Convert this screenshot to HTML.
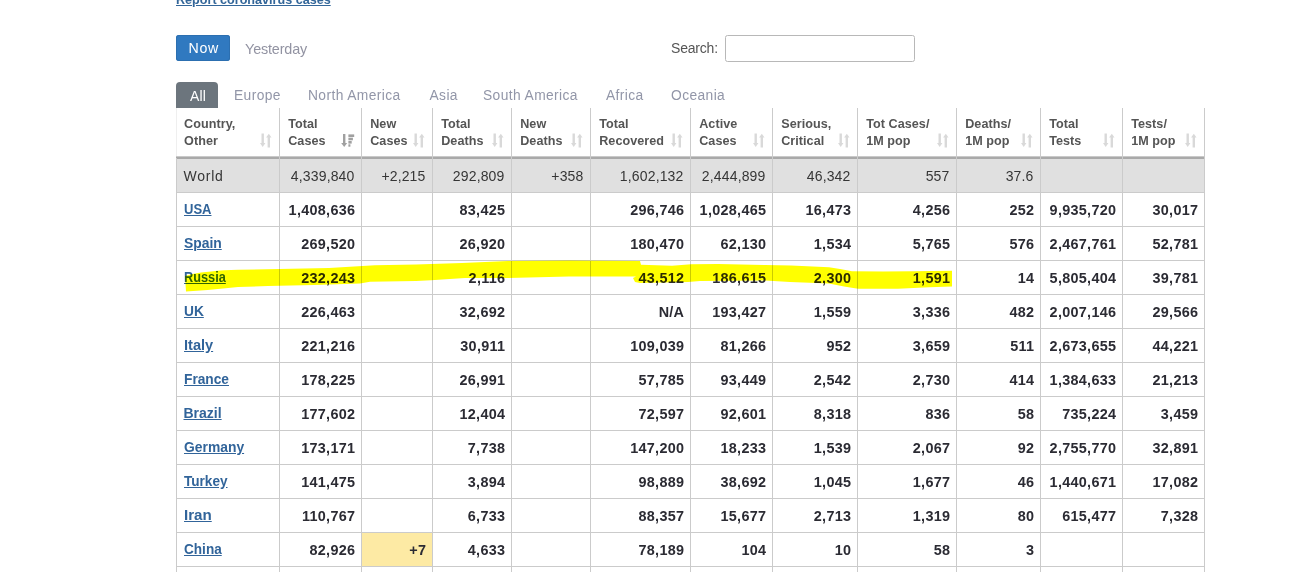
<!DOCTYPE html>
<html><head><meta charset="utf-8"><style>
html,body{margin:0;padding:0;background:#fff;width:1304px;height:572px;overflow:hidden;}
body{position:relative;font-family:"Liberation Sans", sans-serif;}
.t{position:absolute;white-space:nowrap;}
.r{position:absolute;}
</style></head><body>
<div class="t" style="top:-10.37px;font-size:12.6px;font-weight:bold;color:#336699;line-height:20px;left:176.00px;text-decoration:underline;">Report coronavirus cases</div>
<div class="r" style="left:176px;top:35px;width:54px;height:26px;background:#3079c0;border-radius:3px;box-shadow:inset 0 0 0 1px #2c6fb0;"></div>
<div class="t" style="top:37.88px;font-size:14.2px;font-weight:normal;color:#ffffff;line-height:20px;letter-spacing:0.75px;left:188.40px;">Now</div>
<div class="t" style="top:38.61px;font-size:14.4px;font-weight:normal;color:#9293a2;line-height:20px;letter-spacing:-0.15px;left:245.00px;">Yesterday</div>
<div class="t" style="top:37.75px;font-size:14px;font-weight:normal;color:#555;line-height:20px;letter-spacing:-0.2px;left:671.00px;">Search:</div>
<div class="r" style="left:725px;top:35px;width:188px;height:25px;border:1px solid #b8b8b8;border-radius:2.5px;background:#fff"></div>
<div class="r" style="left:176px;top:82px;width:42px;height:26px;background:#6c757d;border-radius:4px 4px 0 0;"></div>
<div class="t" style="top:85.75px;font-size:14px;font-weight:normal;color:#ffffff;line-height:20px;letter-spacing:0.2px;left:190.00px;">All</div>
<div class="t" style="top:86.02px;font-size:13.8px;font-weight:normal;color:#9296a8;line-height:20px;letter-spacing:0.4px;left:234.00px;">Europe</div>
<div class="t" style="top:86.02px;font-size:13.8px;font-weight:normal;color:#9296a8;line-height:20px;letter-spacing:0.4px;left:308.00px;">North America</div>
<div class="t" style="top:86.02px;font-size:13.8px;font-weight:normal;color:#9296a8;line-height:20px;letter-spacing:0.4px;left:429.50px;">Asia</div>
<div class="t" style="top:86.02px;font-size:13.8px;font-weight:normal;color:#9296a8;line-height:20px;letter-spacing:0.4px;left:483.00px;">South America</div>
<div class="t" style="top:86.02px;font-size:13.8px;font-weight:normal;color:#9296a8;line-height:20px;letter-spacing:0.4px;left:606.00px;">Africa</div>
<div class="t" style="top:86.02px;font-size:13.8px;font-weight:normal;color:#9296a8;line-height:20px;letter-spacing:0.4px;left:671.00px;">Oceania</div>
<div class="r" style="left:176px;top:159px;width:1028px;height:33px;background:#e0e0e0;"></div>
<div class="r" style="left:361px;top:533px;width:71px;height:33px;background:#fdeaa4;"></div>
<div class="r" style="left:176px;top:156px;width:1029px;height:1px;background:#c9c9c9;"></div>
<div class="r" style="left:176px;top:157px;width:1029px;height:2px;background:#a9a9a9;"></div>
<div class="r" style="left:176px;top:192px;width:1029px;height:1px;background:#cbcbcb;"></div>
<div class="r" style="left:176px;top:226px;width:1029px;height:1px;background:#cbcbcb;"></div>
<div class="r" style="left:176px;top:260px;width:1029px;height:1px;background:#cbcbcb;"></div>
<div class="r" style="left:176px;top:294px;width:1029px;height:1px;background:#cbcbcb;"></div>
<div class="r" style="left:176px;top:328px;width:1029px;height:1px;background:#cbcbcb;"></div>
<div class="r" style="left:176px;top:362px;width:1029px;height:1px;background:#cbcbcb;"></div>
<div class="r" style="left:176px;top:396px;width:1029px;height:1px;background:#cbcbcb;"></div>
<div class="r" style="left:176px;top:430px;width:1029px;height:1px;background:#cbcbcb;"></div>
<div class="r" style="left:176px;top:464px;width:1029px;height:1px;background:#cbcbcb;"></div>
<div class="r" style="left:176px;top:498px;width:1029px;height:1px;background:#cbcbcb;"></div>
<div class="r" style="left:176px;top:532px;width:1029px;height:1px;background:#cbcbcb;"></div>
<div class="r" style="left:176px;top:566px;width:1029px;height:1px;background:#cbcbcb;"></div>
<div class="r" style="left:176px;top:108px;width:1px;height:48px;background:#efefef;"></div>
<div class="r" style="left:176px;top:158px;width:1px;height:414px;background:#cbcbcb;"></div>
<div class="r" style="left:279px;top:108px;width:1px;height:464px;background:#cbcbcb;"></div>
<div class="r" style="left:361px;top:108px;width:1px;height:464px;background:#cbcbcb;"></div>
<div class="r" style="left:432px;top:108px;width:1px;height:464px;background:#cbcbcb;"></div>
<div class="r" style="left:511px;top:108px;width:1px;height:464px;background:#cbcbcb;"></div>
<div class="r" style="left:590px;top:108px;width:1px;height:464px;background:#cbcbcb;"></div>
<div class="r" style="left:690px;top:108px;width:1px;height:464px;background:#cbcbcb;"></div>
<div class="r" style="left:772px;top:108px;width:1px;height:464px;background:#cbcbcb;"></div>
<div class="r" style="left:857px;top:108px;width:1px;height:464px;background:#cbcbcb;"></div>
<div class="r" style="left:956px;top:108px;width:1px;height:464px;background:#cbcbcb;"></div>
<div class="r" style="left:1040px;top:108px;width:1px;height:464px;background:#cbcbcb;"></div>
<div class="r" style="left:1122px;top:108px;width:1px;height:464px;background:#cbcbcb;"></div>
<div class="r" style="left:1204px;top:108px;width:1px;height:464px;background:#cbcbcb;"></div>
<div class="t" style="top:114.03px;font-size:12.6px;font-weight:bold;color:#555555;line-height:20px;letter-spacing:0.05px;left:184.10px;">Country,</div>
<div class="t" style="top:130.93px;font-size:12.6px;font-weight:bold;color:#555555;line-height:20px;letter-spacing:0.05px;left:184.10px;">Other</div>
<div class="t" style="top:114.03px;font-size:12.6px;font-weight:bold;color:#555555;line-height:20px;letter-spacing:0.05px;left:288.20px;">Total</div>
<div class="t" style="top:130.93px;font-size:12.6px;font-weight:bold;color:#555555;line-height:20px;letter-spacing:0.05px;left:288.20px;">Cases</div>
<div class="t" style="top:114.03px;font-size:12.6px;font-weight:bold;color:#555555;line-height:20px;letter-spacing:0.05px;left:370.20px;">New</div>
<div class="t" style="top:130.93px;font-size:12.6px;font-weight:bold;color:#555555;line-height:20px;letter-spacing:0.05px;left:370.20px;">Cases</div>
<div class="t" style="top:114.03px;font-size:12.6px;font-weight:bold;color:#555555;line-height:20px;letter-spacing:0.05px;left:441.20px;">Total</div>
<div class="t" style="top:130.93px;font-size:12.6px;font-weight:bold;color:#555555;line-height:20px;letter-spacing:0.05px;left:441.20px;">Deaths</div>
<div class="t" style="top:114.03px;font-size:12.6px;font-weight:bold;color:#555555;line-height:20px;letter-spacing:0.05px;left:520.20px;">New</div>
<div class="t" style="top:130.93px;font-size:12.6px;font-weight:bold;color:#555555;line-height:20px;letter-spacing:0.05px;left:520.20px;">Deaths</div>
<div class="t" style="top:114.03px;font-size:12.6px;font-weight:bold;color:#555555;line-height:20px;letter-spacing:0.05px;left:599.20px;">Total</div>
<div class="t" style="top:130.93px;font-size:12.6px;font-weight:bold;color:#555555;line-height:20px;letter-spacing:0.05px;left:599.20px;">Recovered</div>
<div class="t" style="top:114.03px;font-size:12.6px;font-weight:bold;color:#555555;line-height:20px;letter-spacing:0.05px;left:699.20px;">Active</div>
<div class="t" style="top:130.93px;font-size:12.6px;font-weight:bold;color:#555555;line-height:20px;letter-spacing:0.05px;left:699.20px;">Cases</div>
<div class="t" style="top:114.03px;font-size:12.6px;font-weight:bold;color:#555555;line-height:20px;letter-spacing:0.05px;left:781.20px;">Serious,</div>
<div class="t" style="top:130.93px;font-size:12.6px;font-weight:bold;color:#555555;line-height:20px;letter-spacing:0.05px;left:781.20px;">Critical</div>
<div class="t" style="top:114.03px;font-size:12.6px;font-weight:bold;color:#555555;line-height:20px;letter-spacing:0.05px;left:866.20px;">Tot&nbsp;Cases/</div>
<div class="t" style="top:130.93px;font-size:12.6px;font-weight:bold;color:#555555;line-height:20px;letter-spacing:0.05px;left:866.20px;">1M pop</div>
<div class="t" style="top:114.03px;font-size:12.6px;font-weight:bold;color:#555555;line-height:20px;letter-spacing:0.05px;left:965.20px;">Deaths/</div>
<div class="t" style="top:130.93px;font-size:12.6px;font-weight:bold;color:#555555;line-height:20px;letter-spacing:0.05px;left:965.20px;">1M pop</div>
<div class="t" style="top:114.03px;font-size:12.6px;font-weight:bold;color:#555555;line-height:20px;letter-spacing:0.05px;left:1049.20px;">Total</div>
<div class="t" style="top:130.93px;font-size:12.6px;font-weight:bold;color:#555555;line-height:20px;letter-spacing:0.05px;left:1049.20px;">Tests</div>
<div class="t" style="top:114.03px;font-size:12.6px;font-weight:bold;color:#555555;line-height:20px;letter-spacing:0.05px;left:1131.20px;">Tests/</div>
<div class="t" style="top:130.93px;font-size:12.6px;font-weight:bold;color:#555555;line-height:20px;letter-spacing:0.05px;left:1131.20px;">1M pop</div>
<svg class="r" style="left:260px;top:133px" width="12" height="15" viewBox="0 0 12 15"><g fill="#d9d9d9"><rect x="1.5" y="0.5" width="2.4" height="10"/><path d="M0 10 L5.4 10 L2.7 14 Z"/><rect x="7.6" y="4" width="2.4" height="10.5"/><path d="M6.1 4.5 L11.5 4.5 L8.8 0.8 Z"/></g></svg>
<svg class="r" style="left:341px;top:133px" width="14" height="15" viewBox="0 0 14 15"><g fill="#a0a0a0"><rect x="2" y="1" width="2.4" height="10"/><path d="M0.2 10 L6.2 10 L3.2 14 Z"/><rect x="7.4" y="1.4" width="5.8" height="2.6"/><rect x="7.4" y="4.7" width="4.5" height="2.6"/><rect x="7.4" y="8" width="3.3" height="2.6"/><rect x="7.4" y="11.3" width="2" height="2.4"/></g></svg>
<svg class="r" style="left:413px;top:133px" width="12" height="15" viewBox="0 0 12 15"><g fill="#d9d9d9"><rect x="1.5" y="0.5" width="2.4" height="10"/><path d="M0 10 L5.4 10 L2.7 14 Z"/><rect x="7.6" y="4" width="2.4" height="10.5"/><path d="M6.1 4.5 L11.5 4.5 L8.8 0.8 Z"/></g></svg>
<svg class="r" style="left:492px;top:133px" width="12" height="15" viewBox="0 0 12 15"><g fill="#d9d9d9"><rect x="1.5" y="0.5" width="2.4" height="10"/><path d="M0 10 L5.4 10 L2.7 14 Z"/><rect x="7.6" y="4" width="2.4" height="10.5"/><path d="M6.1 4.5 L11.5 4.5 L8.8 0.8 Z"/></g></svg>
<svg class="r" style="left:571px;top:133px" width="12" height="15" viewBox="0 0 12 15"><g fill="#d9d9d9"><rect x="1.5" y="0.5" width="2.4" height="10"/><path d="M0 10 L5.4 10 L2.7 14 Z"/><rect x="7.6" y="4" width="2.4" height="10.5"/><path d="M6.1 4.5 L11.5 4.5 L8.8 0.8 Z"/></g></svg>
<svg class="r" style="left:671px;top:133px" width="12" height="15" viewBox="0 0 12 15"><g fill="#d9d9d9"><rect x="1.5" y="0.5" width="2.4" height="10"/><path d="M0 10 L5.4 10 L2.7 14 Z"/><rect x="7.6" y="4" width="2.4" height="10.5"/><path d="M6.1 4.5 L11.5 4.5 L8.8 0.8 Z"/></g></svg>
<svg class="r" style="left:753px;top:133px" width="12" height="15" viewBox="0 0 12 15"><g fill="#d9d9d9"><rect x="1.5" y="0.5" width="2.4" height="10"/><path d="M0 10 L5.4 10 L2.7 14 Z"/><rect x="7.6" y="4" width="2.4" height="10.5"/><path d="M6.1 4.5 L11.5 4.5 L8.8 0.8 Z"/></g></svg>
<svg class="r" style="left:838px;top:133px" width="12" height="15" viewBox="0 0 12 15"><g fill="#d9d9d9"><rect x="1.5" y="0.5" width="2.4" height="10"/><path d="M0 10 L5.4 10 L2.7 14 Z"/><rect x="7.6" y="4" width="2.4" height="10.5"/><path d="M6.1 4.5 L11.5 4.5 L8.8 0.8 Z"/></g></svg>
<svg class="r" style="left:937px;top:133px" width="12" height="15" viewBox="0 0 12 15"><g fill="#d9d9d9"><rect x="1.5" y="0.5" width="2.4" height="10"/><path d="M0 10 L5.4 10 L2.7 14 Z"/><rect x="7.6" y="4" width="2.4" height="10.5"/><path d="M6.1 4.5 L11.5 4.5 L8.8 0.8 Z"/></g></svg>
<svg class="r" style="left:1021px;top:133px" width="12" height="15" viewBox="0 0 12 15"><g fill="#d9d9d9"><rect x="1.5" y="0.5" width="2.4" height="10"/><path d="M0 10 L5.4 10 L2.7 14 Z"/><rect x="7.6" y="4" width="2.4" height="10.5"/><path d="M6.1 4.5 L11.5 4.5 L8.8 0.8 Z"/></g></svg>
<svg class="r" style="left:1103px;top:133px" width="12" height="15" viewBox="0 0 12 15"><g fill="#d9d9d9"><rect x="1.5" y="0.5" width="2.4" height="10"/><path d="M0 10 L5.4 10 L2.7 14 Z"/><rect x="7.6" y="4" width="2.4" height="10.5"/><path d="M6.1 4.5 L11.5 4.5 L8.8 0.8 Z"/></g></svg>
<svg class="r" style="left:1185px;top:133px" width="12" height="15" viewBox="0 0 12 15"><g fill="#d9d9d9"><rect x="1.5" y="0.5" width="2.4" height="10"/><path d="M0 10 L5.4 10 L2.7 14 Z"/><rect x="7.6" y="4" width="2.4" height="10.5"/><path d="M6.1 4.5 L11.5 4.5 L8.8 0.8 Z"/></g></svg>
<div class="t" style="top:165.95px;font-size:14px;font-weight:normal;color:#363636;line-height:20px;letter-spacing:0.75px;left:183.50px;">World</div>
<div class="t" style="top:165.95px;font-size:14px;font-weight:normal;color:#363636;line-height:20px;letter-spacing:0.15px;right:949.50px;">4,339,840</div>
<div class="t" style="top:165.95px;font-size:14px;font-weight:normal;color:#363636;line-height:20px;letter-spacing:0.15px;right:878.50px;">+2,215</div>
<div class="t" style="top:165.95px;font-size:14px;font-weight:normal;color:#363636;line-height:20px;letter-spacing:0.15px;right:799.50px;">292,809</div>
<div class="t" style="top:165.95px;font-size:14px;font-weight:normal;color:#363636;line-height:20px;letter-spacing:0.15px;right:720.50px;">+358</div>
<div class="t" style="top:165.95px;font-size:14px;font-weight:normal;color:#363636;line-height:20px;letter-spacing:0.15px;right:620.50px;">1,602,132</div>
<div class="t" style="top:165.95px;font-size:14px;font-weight:normal;color:#363636;line-height:20px;letter-spacing:0.15px;right:538.50px;">2,444,899</div>
<div class="t" style="top:165.95px;font-size:14px;font-weight:normal;color:#363636;line-height:20px;letter-spacing:0.15px;right:453.50px;">46,342</div>
<div class="t" style="top:165.95px;font-size:14px;font-weight:normal;color:#363636;line-height:20px;letter-spacing:0.15px;right:354.50px;">557</div>
<div class="t" style="top:165.95px;font-size:14px;font-weight:normal;color:#363636;line-height:20px;letter-spacing:0.15px;right:270.50px;">37.6</div>
<div class="t" style="top:198.75px;font-size:14px;font-weight:bold;color:#31649a;line-height:20px;left:183.50px;text-decoration:underline;text-underline-offset:1.2px;transform:scaleX(0.93);transform-origin:0 0;">USA</div>
<div class="t" style="top:200.01px;font-size:14.4px;font-weight:bold;color:#2b2b33;line-height:20px;letter-spacing:0.3px;right:948.70px;">1,408,636</div>
<div class="t" style="top:200.01px;font-size:14.4px;font-weight:bold;color:#2b2b33;line-height:20px;letter-spacing:0.3px;right:798.70px;">83,425</div>
<div class="t" style="top:200.01px;font-size:14.4px;font-weight:bold;color:#2b2b33;line-height:20px;letter-spacing:0.3px;right:619.70px;">296,746</div>
<div class="t" style="top:200.01px;font-size:14.4px;font-weight:bold;color:#2b2b33;line-height:20px;letter-spacing:0.3px;right:537.70px;">1,028,465</div>
<div class="t" style="top:200.01px;font-size:14.4px;font-weight:bold;color:#2b2b33;line-height:20px;letter-spacing:0.3px;right:452.70px;">16,473</div>
<div class="t" style="top:200.01px;font-size:14.4px;font-weight:bold;color:#2b2b33;line-height:20px;letter-spacing:0.3px;right:353.70px;">4,256</div>
<div class="t" style="top:200.01px;font-size:14.4px;font-weight:bold;color:#2b2b33;line-height:20px;letter-spacing:0.3px;right:269.70px;">252</div>
<div class="t" style="top:200.01px;font-size:14.4px;font-weight:bold;color:#2b2b33;line-height:20px;letter-spacing:0.3px;right:187.70px;">9,935,720</div>
<div class="t" style="top:200.01px;font-size:14.4px;font-weight:bold;color:#2b2b33;line-height:20px;letter-spacing:0.3px;right:105.70px;">30,017</div>
<div class="t" style="top:232.75px;font-size:14px;font-weight:bold;color:#31649a;line-height:20px;left:183.50px;text-decoration:underline;text-underline-offset:1.2px;transform:scaleX(0.99);transform-origin:0 0;">Spain</div>
<div class="t" style="top:234.01px;font-size:14.4px;font-weight:bold;color:#2b2b33;line-height:20px;letter-spacing:0.3px;right:948.70px;">269,520</div>
<div class="t" style="top:234.01px;font-size:14.4px;font-weight:bold;color:#2b2b33;line-height:20px;letter-spacing:0.3px;right:798.70px;">26,920</div>
<div class="t" style="top:234.01px;font-size:14.4px;font-weight:bold;color:#2b2b33;line-height:20px;letter-spacing:0.3px;right:619.70px;">180,470</div>
<div class="t" style="top:234.01px;font-size:14.4px;font-weight:bold;color:#2b2b33;line-height:20px;letter-spacing:0.3px;right:537.70px;">62,130</div>
<div class="t" style="top:234.01px;font-size:14.4px;font-weight:bold;color:#2b2b33;line-height:20px;letter-spacing:0.3px;right:452.70px;">1,534</div>
<div class="t" style="top:234.01px;font-size:14.4px;font-weight:bold;color:#2b2b33;line-height:20px;letter-spacing:0.3px;right:353.70px;">5,765</div>
<div class="t" style="top:234.01px;font-size:14.4px;font-weight:bold;color:#2b2b33;line-height:20px;letter-spacing:0.3px;right:269.70px;">576</div>
<div class="t" style="top:234.01px;font-size:14.4px;font-weight:bold;color:#2b2b33;line-height:20px;letter-spacing:0.3px;right:187.70px;">2,467,761</div>
<div class="t" style="top:234.01px;font-size:14.4px;font-weight:bold;color:#2b2b33;line-height:20px;letter-spacing:0.3px;right:105.70px;">52,781</div>
<div class="t" style="top:266.75px;font-size:14px;font-weight:bold;color:#31649a;line-height:20px;left:183.50px;text-decoration:underline;text-underline-offset:1.2px;transform:scaleX(0.91);transform-origin:0 0;">Russia</div>
<div class="t" style="top:268.01px;font-size:14.4px;font-weight:bold;color:#2b2b33;line-height:20px;letter-spacing:0.3px;right:948.70px;">232,243</div>
<div class="t" style="top:268.01px;font-size:14.4px;font-weight:bold;color:#2b2b33;line-height:20px;letter-spacing:0.3px;right:798.70px;">2,116</div>
<div class="t" style="top:268.01px;font-size:14.4px;font-weight:bold;color:#2b2b33;line-height:20px;letter-spacing:0.3px;right:619.70px;">43,512</div>
<div class="t" style="top:268.01px;font-size:14.4px;font-weight:bold;color:#2b2b33;line-height:20px;letter-spacing:0.3px;right:537.70px;">186,615</div>
<div class="t" style="top:268.01px;font-size:14.4px;font-weight:bold;color:#2b2b33;line-height:20px;letter-spacing:0.3px;right:452.70px;">2,300</div>
<div class="t" style="top:268.01px;font-size:14.4px;font-weight:bold;color:#2b2b33;line-height:20px;letter-spacing:0.3px;right:353.70px;">1,591</div>
<div class="t" style="top:268.01px;font-size:14.4px;font-weight:bold;color:#2b2b33;line-height:20px;letter-spacing:0.3px;right:269.70px;">14</div>
<div class="t" style="top:268.01px;font-size:14.4px;font-weight:bold;color:#2b2b33;line-height:20px;letter-spacing:0.3px;right:187.70px;">5,805,404</div>
<div class="t" style="top:268.01px;font-size:14.4px;font-weight:bold;color:#2b2b33;line-height:20px;letter-spacing:0.3px;right:105.70px;">39,781</div>
<div class="t" style="top:300.75px;font-size:14px;font-weight:bold;color:#31649a;line-height:20px;left:183.50px;text-decoration:underline;text-underline-offset:1.2px;transform:scaleX(0.98);transform-origin:0 0;">UK</div>
<div class="t" style="top:302.01px;font-size:14.4px;font-weight:bold;color:#2b2b33;line-height:20px;letter-spacing:0.3px;right:948.70px;">226,463</div>
<div class="t" style="top:302.01px;font-size:14.4px;font-weight:bold;color:#2b2b33;line-height:20px;letter-spacing:0.3px;right:798.70px;">32,692</div>
<div class="t" style="top:302.01px;font-size:14.4px;font-weight:bold;color:#2b2b33;line-height:20px;letter-spacing:0.3px;right:619.70px;">N/A</div>
<div class="t" style="top:302.01px;font-size:14.4px;font-weight:bold;color:#2b2b33;line-height:20px;letter-spacing:0.3px;right:537.70px;">193,427</div>
<div class="t" style="top:302.01px;font-size:14.4px;font-weight:bold;color:#2b2b33;line-height:20px;letter-spacing:0.3px;right:452.70px;">1,559</div>
<div class="t" style="top:302.01px;font-size:14.4px;font-weight:bold;color:#2b2b33;line-height:20px;letter-spacing:0.3px;right:353.70px;">3,336</div>
<div class="t" style="top:302.01px;font-size:14.4px;font-weight:bold;color:#2b2b33;line-height:20px;letter-spacing:0.3px;right:269.70px;">482</div>
<div class="t" style="top:302.01px;font-size:14.4px;font-weight:bold;color:#2b2b33;line-height:20px;letter-spacing:0.3px;right:187.70px;">2,007,146</div>
<div class="t" style="top:302.01px;font-size:14.4px;font-weight:bold;color:#2b2b33;line-height:20px;letter-spacing:0.3px;right:105.70px;">29,566</div>
<div class="t" style="top:334.75px;font-size:14px;font-weight:bold;color:#31649a;line-height:20px;left:183.50px;text-decoration:underline;text-underline-offset:1.2px;transform:scaleX(1.04);transform-origin:0 0;">Italy</div>
<div class="t" style="top:336.01px;font-size:14.4px;font-weight:bold;color:#2b2b33;line-height:20px;letter-spacing:0.3px;right:948.70px;">221,216</div>
<div class="t" style="top:336.01px;font-size:14.4px;font-weight:bold;color:#2b2b33;line-height:20px;letter-spacing:0.3px;right:798.70px;">30,911</div>
<div class="t" style="top:336.01px;font-size:14.4px;font-weight:bold;color:#2b2b33;line-height:20px;letter-spacing:0.3px;right:619.70px;">109,039</div>
<div class="t" style="top:336.01px;font-size:14.4px;font-weight:bold;color:#2b2b33;line-height:20px;letter-spacing:0.3px;right:537.70px;">81,266</div>
<div class="t" style="top:336.01px;font-size:14.4px;font-weight:bold;color:#2b2b33;line-height:20px;letter-spacing:0.3px;right:452.70px;">952</div>
<div class="t" style="top:336.01px;font-size:14.4px;font-weight:bold;color:#2b2b33;line-height:20px;letter-spacing:0.3px;right:353.70px;">3,659</div>
<div class="t" style="top:336.01px;font-size:14.4px;font-weight:bold;color:#2b2b33;line-height:20px;letter-spacing:0.3px;right:269.70px;">511</div>
<div class="t" style="top:336.01px;font-size:14.4px;font-weight:bold;color:#2b2b33;line-height:20px;letter-spacing:0.3px;right:187.70px;">2,673,655</div>
<div class="t" style="top:336.01px;font-size:14.4px;font-weight:bold;color:#2b2b33;line-height:20px;letter-spacing:0.3px;right:105.70px;">44,221</div>
<div class="t" style="top:368.75px;font-size:14px;font-weight:bold;color:#31649a;line-height:20px;left:183.50px;text-decoration:underline;text-underline-offset:1.2px;transform:scaleX(0.98);transform-origin:0 0;">France</div>
<div class="t" style="top:370.01px;font-size:14.4px;font-weight:bold;color:#2b2b33;line-height:20px;letter-spacing:0.3px;right:948.70px;">178,225</div>
<div class="t" style="top:370.01px;font-size:14.4px;font-weight:bold;color:#2b2b33;line-height:20px;letter-spacing:0.3px;right:798.70px;">26,991</div>
<div class="t" style="top:370.01px;font-size:14.4px;font-weight:bold;color:#2b2b33;line-height:20px;letter-spacing:0.3px;right:619.70px;">57,785</div>
<div class="t" style="top:370.01px;font-size:14.4px;font-weight:bold;color:#2b2b33;line-height:20px;letter-spacing:0.3px;right:537.70px;">93,449</div>
<div class="t" style="top:370.01px;font-size:14.4px;font-weight:bold;color:#2b2b33;line-height:20px;letter-spacing:0.3px;right:452.70px;">2,542</div>
<div class="t" style="top:370.01px;font-size:14.4px;font-weight:bold;color:#2b2b33;line-height:20px;letter-spacing:0.3px;right:353.70px;">2,730</div>
<div class="t" style="top:370.01px;font-size:14.4px;font-weight:bold;color:#2b2b33;line-height:20px;letter-spacing:0.3px;right:269.70px;">414</div>
<div class="t" style="top:370.01px;font-size:14.4px;font-weight:bold;color:#2b2b33;line-height:20px;letter-spacing:0.3px;right:187.70px;">1,384,633</div>
<div class="t" style="top:370.01px;font-size:14.4px;font-weight:bold;color:#2b2b33;line-height:20px;letter-spacing:0.3px;right:105.70px;">21,213</div>
<div class="t" style="top:402.75px;font-size:14px;font-weight:bold;color:#31649a;line-height:20px;left:183.50px;text-decoration:underline;text-underline-offset:1.2px;transform:scaleX(1.0);transform-origin:0 0;">Brazil</div>
<div class="t" style="top:404.01px;font-size:14.4px;font-weight:bold;color:#2b2b33;line-height:20px;letter-spacing:0.3px;right:948.70px;">177,602</div>
<div class="t" style="top:404.01px;font-size:14.4px;font-weight:bold;color:#2b2b33;line-height:20px;letter-spacing:0.3px;right:798.70px;">12,404</div>
<div class="t" style="top:404.01px;font-size:14.4px;font-weight:bold;color:#2b2b33;line-height:20px;letter-spacing:0.3px;right:619.70px;">72,597</div>
<div class="t" style="top:404.01px;font-size:14.4px;font-weight:bold;color:#2b2b33;line-height:20px;letter-spacing:0.3px;right:537.70px;">92,601</div>
<div class="t" style="top:404.01px;font-size:14.4px;font-weight:bold;color:#2b2b33;line-height:20px;letter-spacing:0.3px;right:452.70px;">8,318</div>
<div class="t" style="top:404.01px;font-size:14.4px;font-weight:bold;color:#2b2b33;line-height:20px;letter-spacing:0.3px;right:353.70px;">836</div>
<div class="t" style="top:404.01px;font-size:14.4px;font-weight:bold;color:#2b2b33;line-height:20px;letter-spacing:0.3px;right:269.70px;">58</div>
<div class="t" style="top:404.01px;font-size:14.4px;font-weight:bold;color:#2b2b33;line-height:20px;letter-spacing:0.3px;right:187.70px;">735,224</div>
<div class="t" style="top:404.01px;font-size:14.4px;font-weight:bold;color:#2b2b33;line-height:20px;letter-spacing:0.3px;right:105.70px;">3,459</div>
<div class="t" style="top:436.75px;font-size:14px;font-weight:bold;color:#31649a;line-height:20px;left:183.50px;text-decoration:underline;text-underline-offset:1.2px;transform:scaleX(0.99);transform-origin:0 0;">Germany</div>
<div class="t" style="top:438.01px;font-size:14.4px;font-weight:bold;color:#2b2b33;line-height:20px;letter-spacing:0.3px;right:948.70px;">173,171</div>
<div class="t" style="top:438.01px;font-size:14.4px;font-weight:bold;color:#2b2b33;line-height:20px;letter-spacing:0.3px;right:798.70px;">7,738</div>
<div class="t" style="top:438.01px;font-size:14.4px;font-weight:bold;color:#2b2b33;line-height:20px;letter-spacing:0.3px;right:619.70px;">147,200</div>
<div class="t" style="top:438.01px;font-size:14.4px;font-weight:bold;color:#2b2b33;line-height:20px;letter-spacing:0.3px;right:537.70px;">18,233</div>
<div class="t" style="top:438.01px;font-size:14.4px;font-weight:bold;color:#2b2b33;line-height:20px;letter-spacing:0.3px;right:452.70px;">1,539</div>
<div class="t" style="top:438.01px;font-size:14.4px;font-weight:bold;color:#2b2b33;line-height:20px;letter-spacing:0.3px;right:353.70px;">2,067</div>
<div class="t" style="top:438.01px;font-size:14.4px;font-weight:bold;color:#2b2b33;line-height:20px;letter-spacing:0.3px;right:269.70px;">92</div>
<div class="t" style="top:438.01px;font-size:14.4px;font-weight:bold;color:#2b2b33;line-height:20px;letter-spacing:0.3px;right:187.70px;">2,755,770</div>
<div class="t" style="top:438.01px;font-size:14.4px;font-weight:bold;color:#2b2b33;line-height:20px;letter-spacing:0.3px;right:105.70px;">32,891</div>
<div class="t" style="top:470.75px;font-size:14px;font-weight:bold;color:#31649a;line-height:20px;left:183.50px;text-decoration:underline;text-underline-offset:1.2px;transform:scaleX(0.97);transform-origin:0 0;">Turkey</div>
<div class="t" style="top:472.01px;font-size:14.4px;font-weight:bold;color:#2b2b33;line-height:20px;letter-spacing:0.3px;right:948.70px;">141,475</div>
<div class="t" style="top:472.01px;font-size:14.4px;font-weight:bold;color:#2b2b33;line-height:20px;letter-spacing:0.3px;right:798.70px;">3,894</div>
<div class="t" style="top:472.01px;font-size:14.4px;font-weight:bold;color:#2b2b33;line-height:20px;letter-spacing:0.3px;right:619.70px;">98,889</div>
<div class="t" style="top:472.01px;font-size:14.4px;font-weight:bold;color:#2b2b33;line-height:20px;letter-spacing:0.3px;right:537.70px;">38,692</div>
<div class="t" style="top:472.01px;font-size:14.4px;font-weight:bold;color:#2b2b33;line-height:20px;letter-spacing:0.3px;right:452.70px;">1,045</div>
<div class="t" style="top:472.01px;font-size:14.4px;font-weight:bold;color:#2b2b33;line-height:20px;letter-spacing:0.3px;right:353.70px;">1,677</div>
<div class="t" style="top:472.01px;font-size:14.4px;font-weight:bold;color:#2b2b33;line-height:20px;letter-spacing:0.3px;right:269.70px;">46</div>
<div class="t" style="top:472.01px;font-size:14.4px;font-weight:bold;color:#2b2b33;line-height:20px;letter-spacing:0.3px;right:187.70px;">1,440,671</div>
<div class="t" style="top:472.01px;font-size:14.4px;font-weight:bold;color:#2b2b33;line-height:20px;letter-spacing:0.3px;right:105.70px;">17,082</div>
<div class="t" style="top:504.75px;font-size:14px;font-weight:bold;color:#31649a;line-height:20px;left:183.50px;text-decoration:underline;text-underline-offset:1.2px;transform:scaleX(1.08);transform-origin:0 0;">Iran</div>
<div class="t" style="top:506.01px;font-size:14.4px;font-weight:bold;color:#2b2b33;line-height:20px;letter-spacing:0.3px;right:948.70px;">110,767</div>
<div class="t" style="top:506.01px;font-size:14.4px;font-weight:bold;color:#2b2b33;line-height:20px;letter-spacing:0.3px;right:798.70px;">6,733</div>
<div class="t" style="top:506.01px;font-size:14.4px;font-weight:bold;color:#2b2b33;line-height:20px;letter-spacing:0.3px;right:619.70px;">88,357</div>
<div class="t" style="top:506.01px;font-size:14.4px;font-weight:bold;color:#2b2b33;line-height:20px;letter-spacing:0.3px;right:537.70px;">15,677</div>
<div class="t" style="top:506.01px;font-size:14.4px;font-weight:bold;color:#2b2b33;line-height:20px;letter-spacing:0.3px;right:452.70px;">2,713</div>
<div class="t" style="top:506.01px;font-size:14.4px;font-weight:bold;color:#2b2b33;line-height:20px;letter-spacing:0.3px;right:353.70px;">1,319</div>
<div class="t" style="top:506.01px;font-size:14.4px;font-weight:bold;color:#2b2b33;line-height:20px;letter-spacing:0.3px;right:269.70px;">80</div>
<div class="t" style="top:506.01px;font-size:14.4px;font-weight:bold;color:#2b2b33;line-height:20px;letter-spacing:0.3px;right:187.70px;">615,477</div>
<div class="t" style="top:506.01px;font-size:14.4px;font-weight:bold;color:#2b2b33;line-height:20px;letter-spacing:0.3px;right:105.70px;">7,328</div>
<div class="t" style="top:538.75px;font-size:14px;font-weight:bold;color:#31649a;line-height:20px;left:183.50px;text-decoration:underline;text-underline-offset:1.2px;transform:scaleX(0.97);transform-origin:0 0;">China</div>
<div class="t" style="top:540.01px;font-size:14.4px;font-weight:bold;color:#2b2b33;line-height:20px;letter-spacing:0.3px;right:948.70px;">82,926</div>
<div class="t" style="top:540.01px;font-size:14.4px;font-weight:bold;color:#2b2b33;line-height:20px;letter-spacing:0.3px;right:877.70px;">+7</div>
<div class="t" style="top:540.01px;font-size:14.4px;font-weight:bold;color:#2b2b33;line-height:20px;letter-spacing:0.3px;right:798.70px;">4,633</div>
<div class="t" style="top:540.01px;font-size:14.4px;font-weight:bold;color:#2b2b33;line-height:20px;letter-spacing:0.3px;right:619.70px;">78,189</div>
<div class="t" style="top:540.01px;font-size:14.4px;font-weight:bold;color:#2b2b33;line-height:20px;letter-spacing:0.3px;right:537.70px;">104</div>
<div class="t" style="top:540.01px;font-size:14.4px;font-weight:bold;color:#2b2b33;line-height:20px;letter-spacing:0.3px;right:452.70px;">10</div>
<div class="t" style="top:540.01px;font-size:14.4px;font-weight:bold;color:#2b2b33;line-height:20px;letter-spacing:0.3px;right:353.70px;">58</div>
<div class="t" style="top:540.01px;font-size:14.4px;font-weight:bold;color:#2b2b33;line-height:20px;letter-spacing:0.3px;right:269.70px;">3</div>
<svg class="r" style="left:0;top:0;mix-blend-mode:multiply" width="1304" height="572"><path d="M185,276 C195,273 205,272 224,270.3 L238,269.7 L279,269 L329,268 L375,265.2 L416,264.5 L462,263 L508,261.1 L569,260.6 L640,261 L641,264.8 L672,265.8 L691,264.3 L718,264 L765,265 L791,265.5 L829,267.3 L840,268.9 L852,271.2 L883,271.6 L913,271.2 L952,270.7 L952,286.5 L929,287.3 L898,288.8 L858,288.8 L844,286.5 L829,283.4 L790,281.9 L765,280.6 L700,281 L688,282 L650,282.7 L640,283 L635,282 L633,278 L636,276.6 L569,276.5 L508,278 L465,278 L431,280.3 L416,281 L370,281.8 L360,283.6 L314,285 L268,286 L238,287 L225.6,288.2 L207.7,290 L186,291.6 Z" fill="#ffff00"/></svg>
</body></html>
